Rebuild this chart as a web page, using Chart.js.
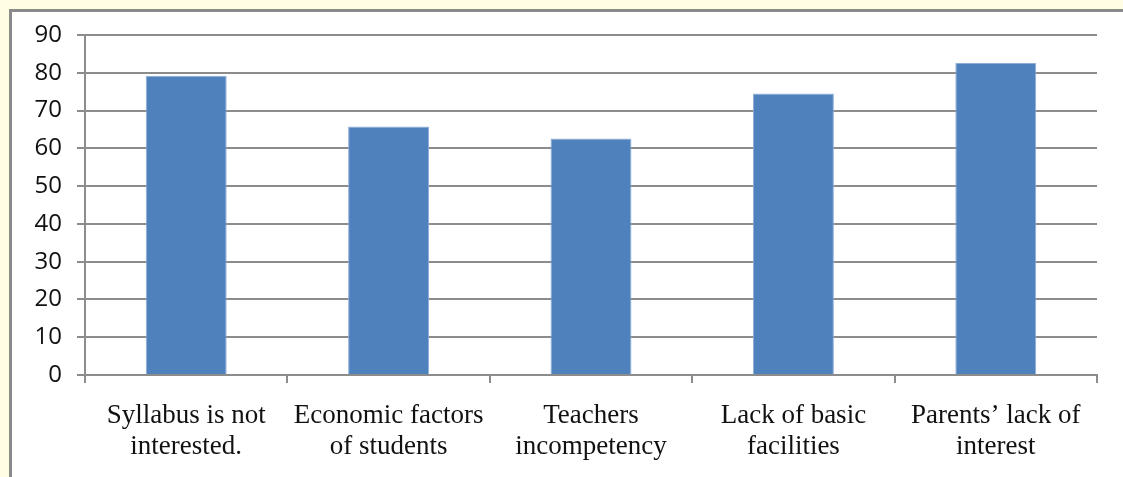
<!DOCTYPE html>
<html>
<head>
<meta charset="utf-8">
<script src="https://cdn.jsdelivr.net/npm/chart.js@4"></script>
<style>
  html, body { margin: 0; padding: 0; }
  body { width: 1123px; height: 477px; overflow: hidden; position: relative; background: #fffde2; }
  #frame { position: absolute; left: 9px; top: 9px; width: 1200px; height: 520px; background: #fff; border: 3px solid #8a8a8a; box-sizing: border-box; }
  #wrap { position: absolute; left: 0; top: 0; width: 1123px; height: 477px; }
</style>
</head>
<body>
<div id="frame"></div>
<div id="wrap"><canvas id="barChart"></canvas></div>
<script>
const categories = [
  ['Syllabus is not', 'interested.'],
  ['Economic factors', 'of students'],
  ['Teachers', 'incompetency'],
  ['Lack of basic', 'facilities'],
  ['Parents\u2019 lack of', 'interest']
];
const values = [79.2, 65.8, 62.6, 74.5, 82.6];
const yTicks = [0, 10, 20, 30, 40, 50, 60, 70, 80, 90];

const gridGray = '#8c8c8c';

new Chart(document.getElementById('barChart'), {
  type: 'bar',
  data: {
    labels: categories,
    datasets: [{
      data: values,
      backgroundColor: '#4f81bd',
      borderColor: '#8eaed6',
      borderWidth: 1,
      barPercentage: 0.4,
      categoryPercentage: 1.0
    }]
  },
  options: {
    responsive: true,
    maintainAspectRatio: false,
    animation: false,
    layout: { padding: { top: 35, right: 26, left: 0, bottom: 0 } },
    plugins: { legend: { display: false }, tooltip: { enabled: false } },
    scales: {
      y: {
        min: 0,
        max: 90,
        afterFit: (s) => { s.width = 85; },
        afterBuildTicks: (s) => { s.ticks = yTicks.map(v => ({ value: v })); },
        ticks: {
          padding: 15,
          color: '#111',
          font: { family: '"Open Sans", sans-serif', size: 24 }
        },
        grid: { color: gridGray, lineWidth: 2, tickLength: 8 },
        border: { color: gridGray, width: 2 }
      },
      x: {
        afterFit: (s) => { s.height = 102; },
        ticks: {
          padding: 17,
          color: '#111',
          maxRotation: 0,
          font: { family: '"Liberation Serif", "Times New Roman", serif', size: 27, lineHeight: 1.15 }
        },
        grid: { display: true, drawOnChartArea: false, color: gridGray, lineWidth: 2, tickLength: 8, offset: true },
        border: { color: gridGray, width: 2 }
      }
    }
  }
});
</script>
</body>
</html>
